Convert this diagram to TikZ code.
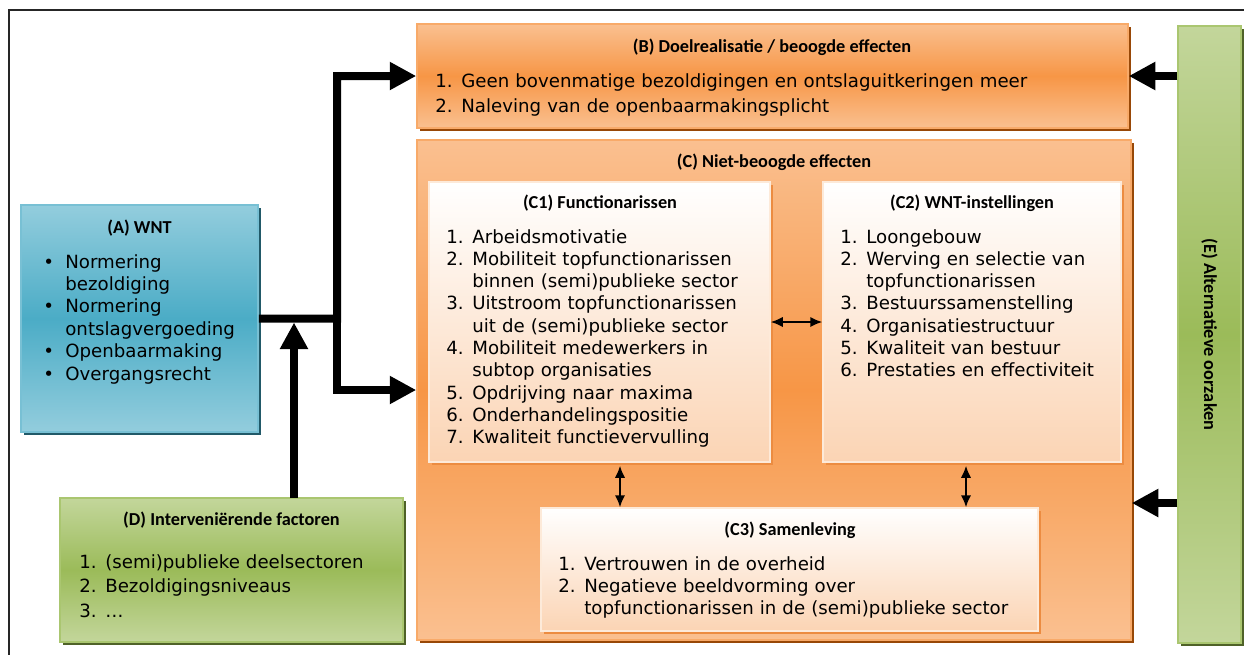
\documentclass[tikz,border=0pt]{standalone}
\usepackage{fontspec}
\setmainfont{DejaVu Sans}
\newfontfamily\kopfont{Carlito}
\usetikzlibrary{arrows.meta,shadows,fit}

\definecolor{wntorange}{RGB}{247,150,70}
\definecolor{wntorangelight}{RGB}{250,192,144}
\definecolor{wntorangeline}{RGB}{248,170,105}
\definecolor{wntbrown}{RGB}{152,72,7}
\definecolor{wntpeach}{RGB}{251,212,180}
\definecolor{wntpeachshadow}{RGB}{236,140,65}
\definecolor{wntblue}{RGB}{75,172,198}
\definecolor{wntbluelight}{RGB}{147,205,221}
\definecolor{wntblueline}{RGB}{120,192,212}
\definecolor{wntbluedark}{RGB}{33,89,104}
\definecolor{wntgreen}{RGB}{155,187,89}
\definecolor{wntgreenlight}{RGB}{195,214,155}
\definecolor{wntgreenline}{RGB}{170,198,112}
\definecolor{wntgreendark}{RGB}{79,98,40}
\definecolor{wntframe}{RGB}{38,38,38}

% list items: number or bullet, and continued lines
\newcommand{\nr}[2]{\makebox[0.52cm][l]{#1}#2}
\newcommand{\vv}[1]{\hspace*{0.52cm}#1}
\newcommand{\bul}[1]{\makebox[0.44cm][l]{\textbullet}#1}
\newcommand{\bv}[1]{\hspace*{0.44cm}#1}

\tikzset{
  colorbox/.style={inner sep=0pt, line width=0.03cm},
  orangebox/.style={colorbox, draw=wntorangeline, top color=wntorangelight,
    bottom color=wntorangelight, middle color=wntorange,
    drop shadow={shadow xshift=0.06cm, shadow yshift=-0.06cm, fill=wntbrown, opacity=1}},
  innerbox/.style={colorbox, draw=wntpeach!50, top color=white, bottom color=wntpeach,
    drop shadow={shadow xshift=0.06cm, shadow yshift=-0.06cm, fill=wntpeachshadow, opacity=1}},
  bluebox/.style={colorbox, draw=wntblueline, top color=wntbluelight,
    bottom color=wntbluelight, middle color=wntblue,
    drop shadow={shadow xshift=0.06cm, shadow yshift=-0.06cm, fill=wntbluedark, opacity=1}},
  greenbox/.style={colorbox, draw=wntgreenline, top color=wntgreenlight,
    bottom color=wntgreenlight, middle color=wntgreen,
    drop shadow={shadow xshift=0.06cm, shadow yshift=-0.06cm, fill=wntgreendark, opacity=1}},
  boxtitle/.style={font=\kopfont\bfseries\fontsize{10.4}{12}\selectfont, anchor=base, inner sep=0pt},
  boxlist/.style={font=\fontsize{10.35}{12.7}\selectfont, align=left, anchor=base west,
    inner sep=0pt, text width=12cm},
  bigarrow/.style={line width=0.16cm, -{Triangle[length=0.53cm, width=0.53cm]}},
  duoarrow/.style={line width=0.04cm, {Latex[length=0.24cm, width=0.21cm]}-{Latex[length=0.24cm, width=0.21cm]}}
}

\begin{document}
\begin{tikzpicture}[x=0.02cm, y=-0.02cm]
    \useasboundingbox (0,0) rectangle (1244,654);

    % Frame
    \draw[wntframe, line width=0.035cm] (9,660) -- (9,10) -- (1250,10);

    % (B) intended effects
    \node[orangebox, fit={(417,24) (1128,128)}] (B) {};
    \node[boxtitle] (tB) at (772,52) {(B) Doelrealisatie / beoogde effecten};
    \node[boxlist, font=\fontsize{10.35}{14.5}\selectfont] (lB) at (435,87)
      {\nr{1.}{Geen bovenmatige bezoldigingen en ontslaguitkeringen meer}\\
       \nr{2.}{Naleving van de openbaarmakingsplicht}};

    % (C) side effects with C1, C2, C3
    \node[orangebox, fit={(417,140) (1131,640)}] (C) {};
    \node[boxtitle] (tC) at (774,167) {(C) Niet-beoogde effecten};

    \node[innerbox, fit={(429,182) (770,462)}] (C1) {};
    \node[boxtitle] (tC1) at (600,208) {(C1) Functionarissen};
    \node[boxlist] (lC1) at (446,243)
      {\nr{1.}{Arbeidsmotivatie}\\
       \nr{2.}{Mobiliteit topfunctionarissen}\\
       \vv{binnen (semi)publieke sector}\\
       \nr{3.}{Uitstroom topfunctionarissen}\\
       \vv{uit de (semi)publieke sector}\\
       \nr{4.}{Mobiliteit medewerkers in}\\
       \vv{subtop organisaties}\\
       \nr{5.}{Opdrijving naar maxima}\\
       \nr{6.}{Onderhandelingspositie}\\
       \nr{7.}{Kwaliteit functievervulling}};

    \node[innerbox, fit={(823,182) (1121,462)}] (C2) {};
    \node[boxtitle] (tC2) at (972,208) {(C2) WNT-instellingen};
    \node[boxlist] (lC2) at (840,243)
      {\nr{1.}{Loongebouw}\\
       \nr{2.}{Werving en selectie van}\\
       \vv{topfunctionarissen}\\
       \nr{3.}{Bestuurssamenstelling}\\
       \nr{4.}{Organisatiestructuur}\\
       \nr{5.}{Kwaliteit van bestuur}\\
       \nr{6.}{Prestaties en effectiviteit}};

    \node[innerbox, fit={(541,508) (1038,631)}] (C3) {};
    \node[boxtitle] (tC3) at (790,535) {(C3) Samenleving};
    \node[boxlist] (lC3) at (558,570)
      {\nr{1.}{Vertrouwen in de overheid}\\
       \nr{2.}{Negatieve beeldvorming over}\\
       \vv{topfunctionarissen in de (semi)publieke sector}};

    % (A) the law
    \node[bluebox, fit={(21,205) (258,432)}] (A) {};
    \node[boxtitle] (tA) at (139.5,233) {(A) WNT};
    \node[boxlist, font=\fontsize{10.35}{12.75}\selectfont] (lA) at (43,268)
      {\bul{Normering}\\
       \bv{bezoldiging}\\
       \bul{Normering}\\
       \bv{ontslagvergoeding}\\
       \bul{Openbaarmaking}\\
       \bul{Overgangsrecht}};

    % (D) intervening factors
    \node[greenbox, fit={(60,498) (403,642)}] (D) {};
    \node[boxtitle] (tD) at (231.5,525) {(D) Interveniërende factoren};
    \node[boxlist, font=\fontsize{10.35}{14.2}\selectfont] (lD) at (79,568)
      {\nr{1.}{(semi)publieke deelsectoren}\\
       \nr{2.}{Bezoldigingsniveaus}\\
       \nr{3.}{…}};

    % (E) alternative causes
    \node[greenbox, fit={(1178,26) (1241,643)}] (E) {};
    \node[boxtitle, anchor=center, rotate=-90] (tE) at (E.center) {(E) Alternatieve oorzaken};

    % Thick connectors
    \coordinate (jn) at (337,318.5);
    \coordinate (dk) at (294,498);
    \coordinate (ey) at (0,503);
    \draw[bigarrow] (A.east) -- (jn) |- (B.west);
    \draw[bigarrow] (jn) |- (C.west);
    \draw[bigarrow, shorten >=0.08cm] (dk) -- (dk |- jn);
    \draw[bigarrow] (E.west |- B.east) -- (B.east);
    \draw[bigarrow] (E.west |- ey) -- (C.east |- ey);

    % Thin two-way arrows inside C
    \coordinate (k13) at (620,0);
    \coordinate (k23) at (966,0);
    \draw[duoarrow] (C1.east) -- (C2.west);
    \draw[duoarrow, shorten <=0.06cm] (C1.south -| k13) -- (C3.north -| k13);
    \draw[duoarrow, shorten <=0.06cm] (C2.south -| k23) -- (C3.north -| k23);
\end{tikzpicture}
\end{document}
